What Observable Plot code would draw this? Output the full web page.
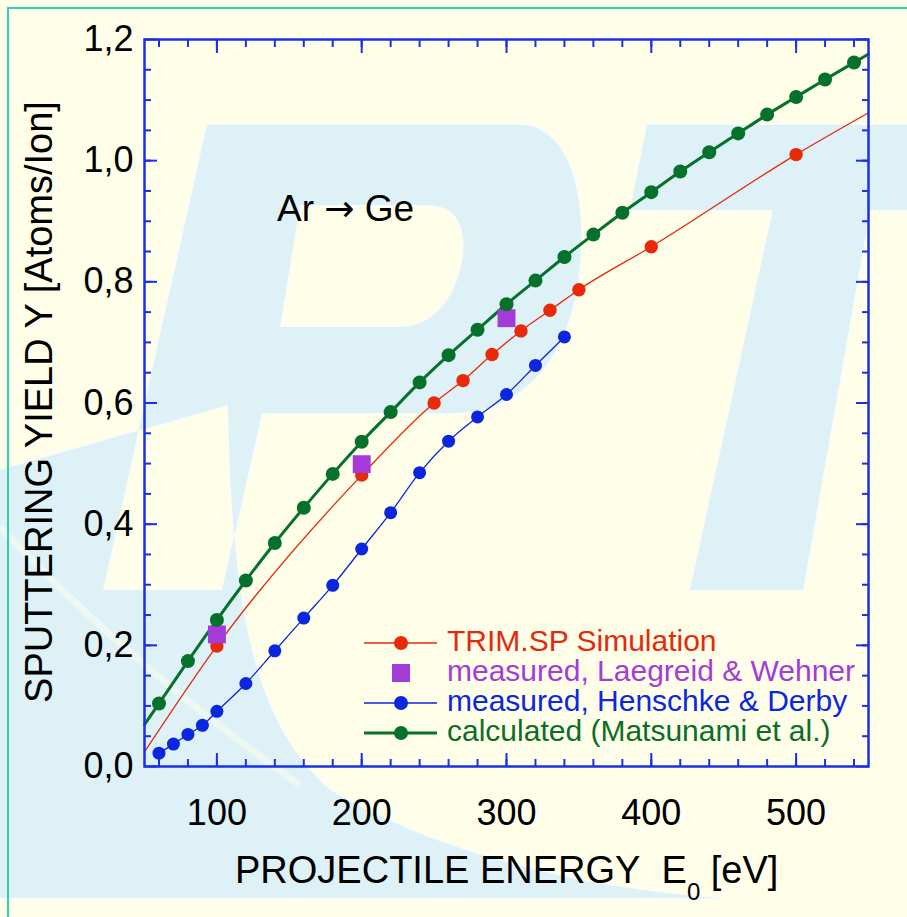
<!DOCTYPE html>
<html><head><meta charset="utf-8">
<script src="https://cdn.jsdelivr.net/npm/d3@7"></script>
<script src="https://cdn.jsdelivr.net/npm/@observablehq/plot@0.6"></script>
<style>
html,body{margin:0;padding:0;background:#FFFEE9;}
#wrap{position:relative;width:907px;height:917px;overflow:hidden;background:#FFFEE9;font-family:"Liberation Sans",Arial,Helvetica,sans-serif;}
#wm{position:absolute;left:0;top:0;}
#border{position:absolute;left:7.4px;top:6.6px;width:930px;height:940px;border:2.4px solid #2CD3AE;box-sizing:border-box;}
#chart{position:absolute;left:0;top:0;}
.lbl{position:absolute;white-space:nowrap;color:#000;}
.leg{position:absolute;white-space:nowrap;height:30px;line-height:30px;font-size:30px;}
.leg svg{display:inline-block;vertical-align:top;}
</style></head>
<body><div id="wrap">
<svg id="wm" width="907" height="917">
  <!-- faint background logo (decoration) -->
  <path fill="#DDF1F6" fill-rule="evenodd" stroke="#FBFDF2" stroke-width="5" paint-order="stroke"
        d="M207,125 L520,125 C570,125 590,200 578,280 C568,360 520,413 455,413 L262,413 L222,590 L103,590 Z
           M300,205 L428,205 C458,205 468,230 462,262 C455,300 432,327 400,327 L280,327 Z
           M0,470 L228,405 C232,600 250,720 330,790 C450,860 600,890 720,898 L0,898 Z"/>
  <path fill="#DDF1F6" stroke="#FBFDF2" stroke-width="5" paint-order="stroke"
        d="M647,125 L1000,125 L982,210 L870,210 L803,590 L690,590 L773,210 L630,210 Z"/>
  <path fill="none" stroke="#EEF8F2" stroke-width="7" d="M0,527 C60,590 150,680 300,785"/>
</svg>
<div id="border"></div>
<div id="chart"></div>
<div class="lbl" id="ylab" style="left:39px;top:402px;font-size:38px;line-height:38px;transform:translate(-50%,-50%) rotate(-90deg);">SPUTTERING YIELD Y [Atoms/Ion]</div>
<div class="lbl" id="xlab" style="left:235px;top:851px;font-size:38px;line-height:38px;">PROJECTILE ENERGY&nbsp; E<span style="font-size:24px;position:relative;top:17px;">0</span> [eV]</div>
<div class="lbl" id="anno" style="left:277px;top:190px;font-size:37px;line-height:37px;">Ar <span style="font-family:'DejaVu Sans',sans-serif;font-size:36px;">→</span> Ge</div>
<div id="legend"></div>
</div>
<script>
// ---- data ----
const calcEnergy = [60,80,100,120,140,160,180,200,220,240,260,280,300,320,340,360,380,400,420,440,460,480,500,520,540];
const calcYield  = [0.104,0.174,0.242,0.307,0.369,0.427,0.483,0.536,0.585,0.634,0.679,0.721,0.763,0.802,0.841,0.878,0.914,0.948,0.982,1.014,1.045,1.076,1.105,1.134,1.162];
const calcCurveEndEnergy = [50,550];
const calcCurveEndYield  = [0.069,1.176];

const trimEnergy = [100,200,250,270,290,310,330,350,400,500];
const trimYield  = [0.199,0.481,0.600,0.637,0.680,0.719,0.753,0.787,0.858,1.010];
const trimCurveEndEnergy = [50,550];
const trimCurveEndYield  = [0.024,1.079];

const lwEnergy = [100,200,300];
const lwYield  = [0.218,0.499,0.740];

const hdEnergy = [60,70,80,90,100,120,140,160,180,200,220,240,260,280,300,320,340];
const hdYield  = [0.022,0.037,0.053,0.068,0.091,0.137,0.191,0.245,0.299,0.359,0.419,0.485,0.537,0.577,0.614,0.662,0.709];

const xMajorTicks = [100,200,300,400,500];
const xMinorTicks = [60,80,100,120,140,160,180,200,220,240,260,280,300,320,340,360,380,400,420,440,460,480,500,520,540];
const yMajorTicks = [0,0.2,0.4,0.6,0.8,1.0,1.2];
const yMinorTicks = [0.05,0.1,0.15,0.2,0.25,0.3,0.35,0.4,0.45,0.5,0.55,0.6,0.65,0.7,0.75,0.8,0.85,0.9,0.95,1.0,1.05,1.1,1.15];

const legendLabels = ["TRIM.SP Simulation","measured, Laegreid & Wehner","measured, Henschke & Derby","calculated (Matsunami et al.)"];
const legendKinds  = ["line-dot","square","line-dot","line-dot"];

// ---- colours ----
const RED = "#E62A0A", PURPLE = "#A43AD8", BLUE = "#0A26DE", GREEN = "#05712A", AXIS = "#1B30E6";
const legendColors = [RED, PURPLE, BLUE, GREEN];
const legendTextColors = ["#E42A0C","#A53CD7","#0A28E0","#0B6E28"];
const legendLineWidths = [1.3, 0, 1.3, 3];

// ---- tables ----
const zip = (xs, ys) => xs.map((e, i) => ({e, y: ys[i]}));
const calcPts = zip(calcEnergy, calcYield);
const calcCurve = zip(calcCurveEndEnergy, calcCurveEndYield).concat(calcPts).sort((a,b)=>a.e-b.e);
const trimPts = zip(trimEnergy, trimYield);
const trimCurve = zip(trimCurveEndEnergy, trimCurveEndYield).concat(trimPts).sort((a,b)=>a.e-b.e);
const lwPts = zip(lwEnergy, lwYield);
const hdPts = zip(hdEnergy, hdYield);

const fmtY = d => d.toFixed(1).replace(".", ",");
const tickOnly = {label: null, fill: "none", stroke: AXIS, strokeWidth: 2};

const chart = Plot.plot({
  width: 907, height: 917,
  marginLeft: 144, marginRight: 39, marginTop: 39, marginBottom: 151,
  style: {background: "transparent", fontFamily: "Liberation Sans, Arial, Helvetica, sans-serif", color: "black"},
  x: {domain: [50, 550]},
  y: {domain: [0, 1.2]},
  marks: [
    Plot.line(trimCurve, {x: "e", y: "y", stroke: RED, strokeWidth: 1.3, curve: "monotone-x"}),
    Plot.line(hdPts, {x: "e", y: "y", stroke: BLUE, strokeWidth: 1.3, curve: "monotone-x"}),
    Plot.line(calcCurve, {x: "e", y: "y", stroke: GREEN, strokeWidth: 3, curve: "monotone-x"}),
    Plot.dot(hdPts, {x: "e", y: "y", r: 6.5, fill: BLUE}),
    Plot.dot(trimPts, {x: "e", y: "y", r: 6.7, fill: RED}),
    Plot.dot(lwPts, {x: "e", y: "y", r: 10.1, symbol: "square", fill: PURPLE}),
    Plot.dot(calcPts, {x: "e", y: "y", r: 7, fill: GREEN}),
    // inward ticks on all four sides (no text)
    Plot.axisX({ticks: xMinorTicks, anchor: "bottom", tickSize: -7, ...tickOnly}),
    Plot.axisX({ticks: xMinorTicks, anchor: "top", tickSize: -7, ...tickOnly}),
    Plot.axisX({ticks: xMajorTicks, anchor: "bottom", tickSize: -13, ...tickOnly}),
    Plot.axisX({ticks: xMajorTicks, anchor: "top", tickSize: -13, ...tickOnly}),
    Plot.axisY({ticks: yMinorTicks, anchor: "left", tickSize: -7, ...tickOnly}),
    Plot.axisY({ticks: yMinorTicks, anchor: "right", tickSize: -7, ...tickOnly}),
    Plot.axisY({ticks: yMajorTicks, anchor: "left", tickSize: -13, ...tickOnly}),
    Plot.axisY({ticks: yMajorTicks, anchor: "right", tickSize: -13, ...tickOnly}),
    // tick labels
    Plot.axisX({ticks: xMajorTicks, anchor: "bottom", tickSize: 0, tickPadding: 33, fontSize: 36, label: null, fill: "black"}),
    Plot.axisY({ticks: yMajorTicks, anchor: "left", tickSize: 0, tickPadding: 11, fontSize: 36, tickFormat: fmtY, label: null, fill: "black"}),
    Plot.frame({stroke: AXIS, strokeWidth: 2.5})
  ]
});
document.getElementById("chart").appendChild(chart);

// ---- legend (HTML, inside the plot area) ----
const legend = document.getElementById("legend");
legendLabels.forEach((label, i) => {
  const row = document.createElement("div");
  row.className = "leg";
  row.style.left = "364px";
  row.style.top = (626.2 + i * 30) + "px";
  const ns = "http://www.w3.org/2000/svg";
  const sw = document.createElementNS(ns, "svg");
  sw.setAttribute("width", "83"); sw.setAttribute("height", "30");
  const cy = 17;
  if (legendKinds[i] === "line-dot") {
    const ln = document.createElementNS(ns, "line");
    ln.setAttribute("x1", 0); ln.setAttribute("x2", 73);
    ln.setAttribute("y1", cy); ln.setAttribute("y2", cy);
    ln.setAttribute("stroke", legendColors[i]); ln.setAttribute("stroke-width", legendLineWidths[i]);
    sw.appendChild(ln);
    const c = document.createElementNS(ns, "circle");
    c.setAttribute("cx", 37); c.setAttribute("cy", cy); c.setAttribute("r", 7);
    c.setAttribute("fill", legendColors[i]);
    sw.appendChild(c);
  } else {
    const r = document.createElementNS(ns, "rect");
    r.setAttribute("x", 28); r.setAttribute("y", cy - 9); r.setAttribute("width", 18); r.setAttribute("height", 18);
    r.setAttribute("fill", legendColors[i]);
    sw.appendChild(r);
  }
  row.appendChild(sw);
  const t = document.createElement("span");
  t.textContent = label;
  t.style.color = legendTextColors[i];
  row.appendChild(t);
  legend.appendChild(row);
});
</script>
</body></html>
